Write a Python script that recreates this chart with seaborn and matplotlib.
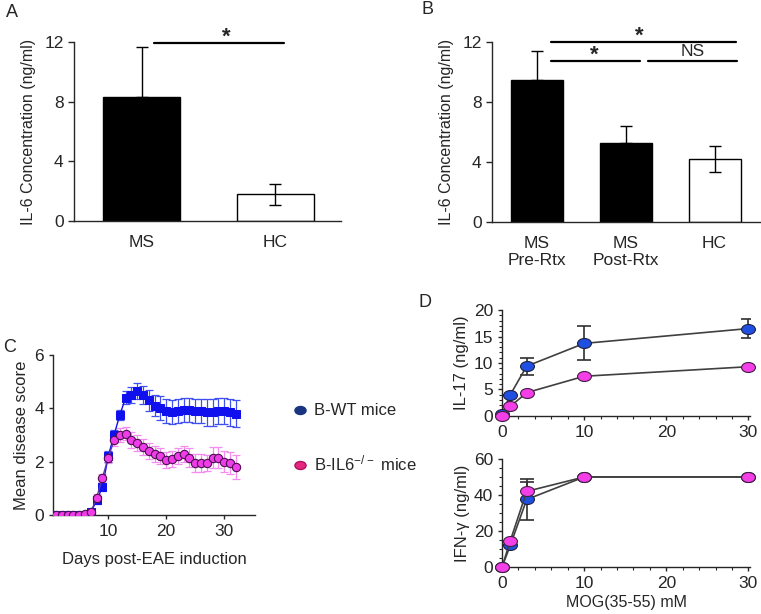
import matplotlib
matplotlib.use('Agg')
import matplotlib.pyplot as plt
from matplotlib.lines import Line2D
from matplotlib.path import Path
from matplotlib.ticker import MultipleLocator
import numpy as np
import pandas as pd
import seaborn as sns

# data
a_groups = ['MS', 'HC']
a_values = [8.3, 1.8]
a_err = [3.4, 0.7]

b_groups = ['MS\nPre-Rtx', 'MS\nPost-Rtx', 'HC']
b_values = [9.5, 5.3, 4.2]
b_err = [1.9, 1.1, 0.87]

days = list(range(1, 33))
wt_score = [0, 0, 0, 0, 0, 0, 0.1, 0.55, 1.05, 2.2, 3.0, 3.75, 4.4, 4.5, 4.65, 4.5,
            4.3, 4.1, 4.0, 3.9, 3.85, 3.9, 3.95, 3.95, 3.9, 3.9, 3.85, 3.85, 3.9, 3.9, 3.85, 3.8]
wt_sem = [0, 0, 0, 0, 0, 0, 0.05, 0.15, 0.15, 0.2, 0.2, 0.2, 0.25, 0.3, 0.3, 0.35,
          0.4, 0.4, 0.45, 0.45, 0.45, 0.45, 0.45, 0.45, 0.45, 0.45, 0.5, 0.5, 0.5, 0.5, 0.5, 0.5]
ko_score = [0, 0, 0, 0, 0, 0.05, 0.1, 0.65, 1.4, 2.15, 2.8, 3.0, 3.05, 2.8, 2.7, 2.55,
            2.4, 2.3, 2.2, 2.05, 2.1, 2.2, 2.3, 2.15, 1.95, 1.95, 1.95, 2.15, 2.15, 2.0, 1.95, 1.8]
ko_sem = [0, 0, 0, 0, 0, 0, 0.05, 0.15, 0.15, 0.2, 0.2, 0.25, 0.25, 0.3, 0.3, 0.3,
          0.3, 0.3, 0.3, 0.3, 0.3, 0.3, 0.3, 0.35, 0.35, 0.35, 0.3, 0.4, 0.4, 0.4, 0.4, 0.45]

mog = [0, 1, 3, 10, 30]
il17_wt = [0.3, 4.0, 9.4, 13.7, 16.5]
il17_wt_err = [0, 0, 1.6, 3.2, 1.8]
il17_ko = [0, 1.8, 4.4, 7.5, 9.3]
ifng_wt = [0, 12, 37.5, 50, 50]
ifng_wt_err = [0, 0, 11.5, 0, 0]
ifng_ko = [0, 14.5, 42, 50, 50]
ifng_ko_err = [0, 0, 5, 0, 0]

sns.set_style('ticks')
plt.rcParams['font.family'] = ['Liberation Sans', 'DejaVu Sans']
plt.rcParams['font.size'] = 12
plt.rcParams['mathtext.default'] = 'regular'

fig = plt.figure(figsize=(7.61, 6.14), dpi=100)

# ellipse marker
_circ = Path.unit_circle()
oval = Path(_circ.vertices * np.array([1.0, 0.72]), _circ.codes)


def _style_bar_axis(ax):
    sns.despine(ax=ax)
    ax.tick_params(axis='x', length=0, labelsize=12.5, pad=10)
    ax.tick_params(axis='y', length=4, width=1, labelsize=12.5, direction='out')
    ax.set_yticks([0, 4, 8, 12])
    ax.set_ylim(0, 12)
    ax.set_xlabel('')
    ax.set_ylabel('IL-6 Concentration (ng/ml)', fontsize=11.5, labelpad=6)
    for s in ax.spines.values():
        s.set_linewidth(1)


# panel A
axA = fig.add_axes([0.0972, 0.640, 0.351, 0.2915])
dfA = pd.DataFrame({'group': a_groups, 'value': a_values})
sns.barplot(data=dfA, x='group', y='value', hue='group', palette=['black', 'white'],
            edgecolor='black', linewidth=1, width=0.58, legend=False, ax=axA)
axA.errorbar(range(len(a_groups)), a_values, yerr=[[0, a_err[1]], a_err], fmt='none',
             ecolor='black', elinewidth=1, capsize=4.5, capthick=1, zorder=3)
axA.set_xlim(-0.505, 1.49)
_style_bar_axis(axA)
axA.plot([0.094, 1.06], [11.95, 11.95], color='black', lw=1.6, clip_on=False)
axA.text(0.635, 11.65, '*', ha='center', va='bottom', fontsize=16, fontweight='bold')

# panel B
axB = fig.add_axes([0.6465, 0.6384, 0.352, 0.293])
dfB = pd.DataFrame({'group': b_groups, 'value': b_values})
sns.barplot(data=dfB, x='group', y='value', hue='group', palette=['black', 'black', 'white'],
            edgecolor='black', linewidth=1, width=0.586, legend=False, ax=axB)
axB.errorbar(range(len(b_groups)), b_values, yerr=[[0, 0, b_err[2]], b_err], fmt='none',
             ecolor='black', elinewidth=1, capsize=4.5, capthick=1, zorder=3)
axB.set_xlim(-0.507, 2.51)
_style_bar_axis(axB)
axB.plot([0.16, 2.24], [12, 12], color='black', lw=1.6, clip_on=False)
axB.plot([0.16, 1.16], [10.73, 10.73], color='black', lw=1.6, clip_on=False)
axB.plot([1.25, 2.25], [10.73, 10.73], color='black', lw=1.6, clip_on=False)
axB.text(1.15, 11.7, '*', ha='center', va='bottom', fontsize=16, fontweight='bold')
axB.text(0.65, 10.45, '*', ha='center', va='bottom', fontsize=16, fontweight='bold')
axB.text(1.75, 10.85, 'NS', ha='center', va='bottom', fontsize=12.5)

# panel C
axC = fig.add_axes([0.0696, 0.1612, 0.2654, 0.2606])
wt_col = '#1010ee'
ko_col = '#f03ce8'
axC.errorbar(days, wt_score, yerr=wt_sem, fmt='none', ecolor='#4050f0', elinewidth=0.9,
             capsize=3, capthick=0.9, zorder=2)
axC.errorbar(days, ko_score, yerr=ko_sem, fmt='none', ecolor='#f58cf0', elinewidth=0.9,
             capsize=3, capthick=0.9, zorder=2)
dfC = pd.DataFrame({'day': days + days, 'score': wt_score + ko_score,
                    'group': ['WT'] * len(days) + ['KO'] * len(days)})
sns.lineplot(data=dfC[dfC.group == 'WT'], x='day', y='score', color=wt_col, lw=1,
             marker='s', markersize=5.5, markeredgecolor=wt_col, ax=axC, zorder=3)
sns.lineplot(data=dfC[dfC.group == 'KO'], x='day', y='score', color='#5a3aa8', lw=1,
             marker='o', markersize=6, markerfacecolor=ko_col, markeredgecolor='#4a1050',
             markeredgewidth=0.8, ax=axC, zorder=4)
axC.set_xlim(0.47, 35.3)
axC.set_ylim(0, 6)
axC.set_xticks([10, 20, 30])
axC.set_yticks([0, 2, 4, 6])
sns.despine(ax=axC)
axC.tick_params(labelsize=12.5, length=3, width=1)
axC.set_xlabel('Days post-EAE induction', fontsize=12, labelpad=9)
axC.set_ylabel('Mean disease score', fontsize=12, labelpad=4)
for s in axC.spines.values():
    s.set_linewidth(1)
handles = [Line2D([], [], ls='none', marker=oval, markersize=8, markerfacecolor='#1a3580',
                  markeredgecolor='#1a3580'),
           Line2D([], [], ls='none', marker=oval, markersize=8, markerfacecolor='#e5287f',
                  markeredgecolor='#b01060')]
fig.legend(handles, ['B-WT mice', 'B-IL6$^{-/-}$ mice'], loc='center left',
           bbox_to_anchor=(0.372, 0.286), frameon=False, fontsize=12, handlelength=1.0,
           handletextpad=0.35, labelspacing=2.1, borderpad=0)


def _mog_panel(ax, wt, wt_err, ko, ko_err, ymax, ymajor, yminor, ylabel):
    dfD = pd.DataFrame({'mog': mog + mog, 'val': wt + ko,
                        'group': ['WT'] * len(mog) + ['KO'] * len(mog)})
    ax.errorbar(mog, wt, yerr=wt_err, fmt='none', ecolor='#303030', elinewidth=1.2,
                capsize=5, capthick=1.2, zorder=2)
    if ko_err is not None:
        ax.errorbar(mog, ko, yerr=ko_err, fmt='none', ecolor='#303030', elinewidth=1.2,
                    capsize=5, capthick=1.2, zorder=2)
    sns.lineplot(data=dfD[dfD.group == 'WT'], x='mog', y='val', color='#404040', lw=1.2,
                 marker=oval, markersize=10, markerfacecolor='#1f4fe0', markeredgecolor='#202040',
                 markeredgewidth=0.8, ax=ax, zorder=3, clip_on=False)
    sns.lineplot(data=dfD[dfD.group == 'KO'], x='mog', y='val', color='#404040', lw=1.2,
                 marker=oval, markersize=10, markerfacecolor='#f43ee8', markeredgecolor='#402040',
                 markeredgewidth=0.8, ax=ax, zorder=4, clip_on=False)
    ax.set_xlim(0, 30.2)
    ax.set_ylim(0, ymax)
    ax.set_xticks([0, 10, 20, 30])
    ax.set_yticks(np.arange(0, ymax + 1, ymajor))
    ax.xaxis.set_minor_locator(MultipleLocator(2))
    ax.yaxis.set_minor_locator(MultipleLocator(yminor))
    sns.despine(ax=ax)
    ax.tick_params(which='major', labelsize=12.5, length=3, width=1)
    ax.tick_params(which='minor', length=2, width=0.8)
    ax.set_ylabel(ylabel, fontsize=12, labelpad=3)
    for s in ax.spines.values():
        s.set_linewidth(1)


# panel D
axD1 = fig.add_axes([0.6597, 0.3225, 0.326, 0.1726])
_mog_panel(axD1, il17_wt, il17_wt_err, il17_ko, None, 20, 5, 1, 'IL-17 (ng/ml)')
axD1.set_xlabel('')
axD2 = fig.add_axes([0.6597, 0.0765, 0.326, 0.176])
_mog_panel(axD2, ifng_wt, ifng_wt_err, ifng_ko, ifng_ko_err, 60, 20, 5, 'IFN-γ (ng/ml)')
axD2.set_xlabel('MOG(35-55) mM', fontsize=11.5, labelpad=3)

# panel letters
for letter, x, y in [('A', 0.016, 0.980), ('B', 0.562, 0.984), ('C', 0.012, 0.434),
                     ('D', 0.559, 0.508)]:
    fig.text(x, y, letter, ha='center', va='center', fontsize=13)

fig.savefig('out.png', dpi=100)
